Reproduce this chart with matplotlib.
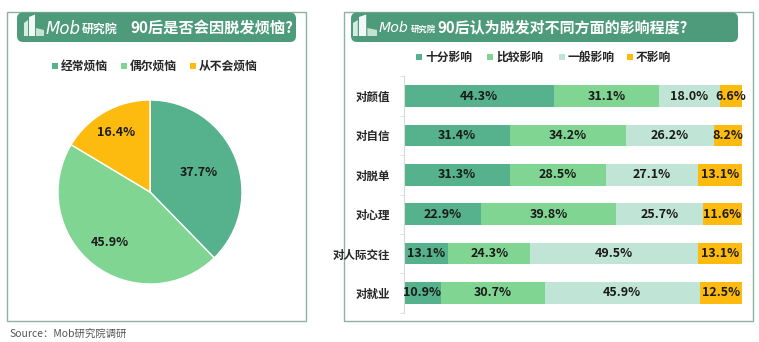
import matplotlib
matplotlib.use("Agg")
import matplotlib.pyplot as plt
from matplotlib.patches import Rectangle, FancyBboxPatch, Polygon
import numpy as np

plt.rcParams['font.family'] = ['Noto Sans CJK SC', 'DejaVu Sans']

# ---------------- data ----------------
pie_labels = ['经常烦恼', '偶尔烦恼', '从不会烦恼']
pie_values = [37.7, 45.9, 16.4]
pie_colors = ['#55B28C', '#80D593', '#FDBB10']

bar_categories = ['对颜值', '对自信', '对脱单', '对心理', '对人际交往', '对就业']
bar_series = ['十分影响', '比较影响', '一般影响', '不影响']
s_very = [44.3, 31.4, 31.3, 22.9, 13.1, 10.9]
s_more = [31.1, 34.2, 28.5, 39.8, 24.3, 30.7]
s_normal = [18.0, 26.2, 27.1, 25.7, 49.5, 45.9]
s_none = [6.6, 8.2, 13.1, 11.6, 13.1, 12.5]
bar_colors = ['#55B28C', '#80D593', '#C0E4D5', '#FDBB10']

title_left = '90后是否会因脱发烦恼?'
title_right = '90后认为脱发对不同方面的影响程度?'
brand_latin = 'Mob'
brand_cjk = '研究院'
source = 'Source：Mob研究院调研'

# ---------------- figure ----------------
W, H = 759, 342
fig = plt.figure(figsize=(W / 100, H / 100), dpi=100)
fig.patch.set_facecolor('white')
bg = fig.add_axes([0, 0, 1, 1], zorder=0)
bg.set_xlim(0, W)
bg.set_ylim(H, 0)
bg.axis('off')

BORDER = '#8DB2A3'
BANNER = '#4E9B7C'
bg.add_patch(Rectangle((7, 12), 299, 309, fill=False, ec=BORDER, lw=1.0))
bg.add_patch(Rectangle((344, 12), 409, 309, fill=False, ec=BORDER, lw=1.0))


def banner(x0, x1, logo_x, logo_w, mob_x, mob_fs, cjk_x, cjk_fs, title, title_x, title_fs):
    bg.add_patch(FancyBboxPatch((x0, 12.5), x1 - x0, 29.5,
                                boxstyle='round,pad=0,rounding_size=6',
                                fc=BANNER, ec='none'))
    # simple building logo
    s = logo_w / 20.0
    lx = logo_x
    bg.add_patch(Polygon([[lx, 36], [lx, 23], [lx + 4 * s, 20], [lx + 4 * s, 36]],
                         closed=True, fc='#D5ECE0', ec='none'))
    bg.add_patch(Polygon([[lx + 5 * s, 36], [lx + 5 * s, 17], [lx + 11 * s, 14.5],
                          [lx + 11 * s, 36]], closed=True, fc='#F2F8F5', ec='none'))
    bg.add_patch(Polygon([[lx + 12 * s, 36], [lx + 12 * s, 28], [lx + 20 * s, 30],
                          [lx + 20 * s, 36]], closed=True, fc='#C4E4D3', ec='none'))
    bg.text(mob_x, 28.5, brand_latin, fontsize=mob_fs, style='italic', color='white',
            family=['DejaVu Sans'], va='center', ha='left')
    bg.text(cjk_x, 29.5, brand_cjk, fontsize=cjk_fs, color='white', va='center',
            ha='left', fontweight='bold')
    bg.text(title_x, 27.5, title, fontsize=title_fs, fontweight='bold', color='white',
            va='center', ha='left')


banner(17, 296, 24, 20, 46, 12, 82, 8.6, title_left, 130, 11)
banner(351, 738, 353, 24, 379, 10.2, 411, 6.0, title_right, 437, 10.8)

# ---------------- left legend ----------------
leg_x = [52, 121, 190]
for x, lab, c in zip(leg_x, pie_labels, pie_colors):
    bg.add_patch(Rectangle((x, 63), 6, 6, fc=c, ec='none'))
    bg.text(x + 9, 66.5, lab, fontsize=8.5, fontweight='bold', color='#262626',
            va='center', ha='left')

# ---------------- right legend ----------------
leg_x2 = [416, 487, 559, 627]
for x, lab, c in zip(leg_x2, bar_series, bar_colors):
    bg.add_patch(Rectangle((x, 54), 6, 6, fc=c, ec='none'))
    bg.text(x + 9, 57.5, lab, fontsize=8.5, fontweight='bold', color='#262626',
            va='center', ha='left')

# ---------------- pie ----------------
cx, cy, r = 150, 192, 92
axp = fig.add_axes([(cx - r) / W, (H - cy - r) / H, 2 * r / W, 2 * r / H], zorder=2)
wedges, _ = axp.pie(pie_values, colors=pie_colors, startangle=90, counterclock=False,
                    radius=1, wedgeprops=dict(edgecolor='white', linewidth=1.0))
axp.set_xlim(-1, 1)
axp.set_ylim(-1, 1)
label_r = [0.57, 0.70, 0.74]
for w, v, lr in zip(wedges, pie_values, label_r):
    th = np.deg2rad((w.theta1 + w.theta2) / 2)
    axp.text(lr * np.cos(th), lr * np.sin(th), f'{v:.1f}%', fontsize=9,
             fontweight='bold', color='#1A1A1A', ha='center', va='center')

# ---------------- stacked bars ----------------
top, bottom = 76.3, 312.7
left_px, right_px = 404, 742
axb = fig.add_axes([left_px / W, (H - bottom) / H, (right_px - left_px) / W,
                    (bottom - top) / H], zorder=2)
axb.patch.set_alpha(0)
y = np.arange(len(bar_categories))
cum = np.zeros(len(bar_categories))
for vals, c in zip([s_very, s_more, s_normal, s_none], bar_colors):
    vals = np.array(vals)
    axb.barh(y, vals, left=cum, height=0.55, color=c, edgecolor='none')
    for yi, l, v in zip(y, cum, vals):
        axb.text(l + v / 2, yi, f'{v:.1f}%', fontsize=9, fontweight='bold',
                 color='#1A1A1A', ha='center', va='center')
    cum += vals
axb.set_xlim(0, 100)
axb.set_ylim(len(bar_categories) - 0.5, -0.5)
axb.set_xticks([])
axb.set_yticks(y, labels=bar_categories)
axb.set_yticks(np.arange(-0.5, len(bar_categories)), minor=True)
axb.tick_params(axis='y', which='major', length=0, pad=10, labelsize=8.3,
                labelcolor='#262626')
axb.tick_params(axis='y', which='minor', length=3, color='#D9D9D9')
for lab in axb.get_yticklabels():
    lab.set_fontweight('bold')
for s in ['top', 'right', 'bottom']:
    axb.spines[s].set_visible(False)
axb.spines['left'].set_color('#D9D9D9')
axb.spines['left'].set_linewidth(0.8)

# ---------------- source ----------------
bg.text(9, 335, source, fontsize=7.5, color='#555555', va='center', ha='left')

fig.savefig('out.png', dpi=100, facecolor='white')
